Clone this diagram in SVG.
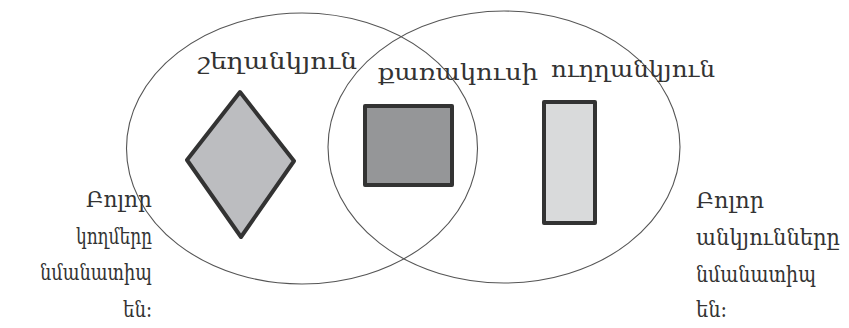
<svg xmlns="http://www.w3.org/2000/svg" width="849" height="328" viewBox="0 0 849 328">
<style>
.set{fill:none;stroke:#555;stroke-width:1.1}
.shape{stroke:#333;stroke-width:4;stroke-linejoin:round}
text{font-family:"DejaVu Serif","Noto Serif","Noto Sans",serif;fill:#333}
.lbl{font-size:22px}
.note{font-size:22px}
</style>
<rect width="849" height="328" fill="#fff"/>
<g id="sets">
<ellipse id="set-left" class="set" cx="302" cy="148.5" rx="175.5" ry="135.5"/>
<ellipse id="set-right" class="set" cx="504" cy="147" rx="176" ry="136"/>
</g>
<g id="rhombus">
<polygon class="shape" fill="#bcbdc0" points="240,92 294,161 241,237 187,160"/>
<text class="lbl" x="198" y="69" textLength="159" lengthAdjust="spacingAndGlyphs">շեղանկյուն</text>
</g>
<g id="square">
<rect class="shape" fill="#959698" x="365" y="106" width="87" height="79"/>
<text class="lbl" x="378" y="80" textLength="160" lengthAdjust="spacingAndGlyphs">քառակուսի</text>
</g>
<g id="rectangle">
<rect class="shape" fill="#d9dadb" x="544" y="102" width="51" height="121"/>
<text class="lbl" x="551" y="77" textLength="164" lengthAdjust="spacingAndGlyphs">ուղղանկյուն</text>
</g>
<g id="note-left">
<text class="note" x="86" y="207" textLength="66" lengthAdjust="spacingAndGlyphs">Բոլոր</text>
<text class="note" x="76" y="244" textLength="76" lengthAdjust="spacingAndGlyphs">կողմերը</text>
<text class="note" x="40" y="280" textLength="112" lengthAdjust="spacingAndGlyphs">նմանատիպ</text>
<text class="note" x="123" y="317" textLength="29" lengthAdjust="spacingAndGlyphs">են:</text>
</g>
<g id="note-right">
<text class="note" x="696" y="208" textLength="68" lengthAdjust="spacingAndGlyphs">Բոլոր</text>
<text class="note" x="696" y="245" textLength="144" lengthAdjust="spacingAndGlyphs">անկյունները</text>
<text class="note" x="696" y="282" textLength="120" lengthAdjust="spacingAndGlyphs">նմանատիպ</text>
<text class="note" x="696" y="317" textLength="31" lengthAdjust="spacingAndGlyphs">են:</text>
</g>
</svg>
